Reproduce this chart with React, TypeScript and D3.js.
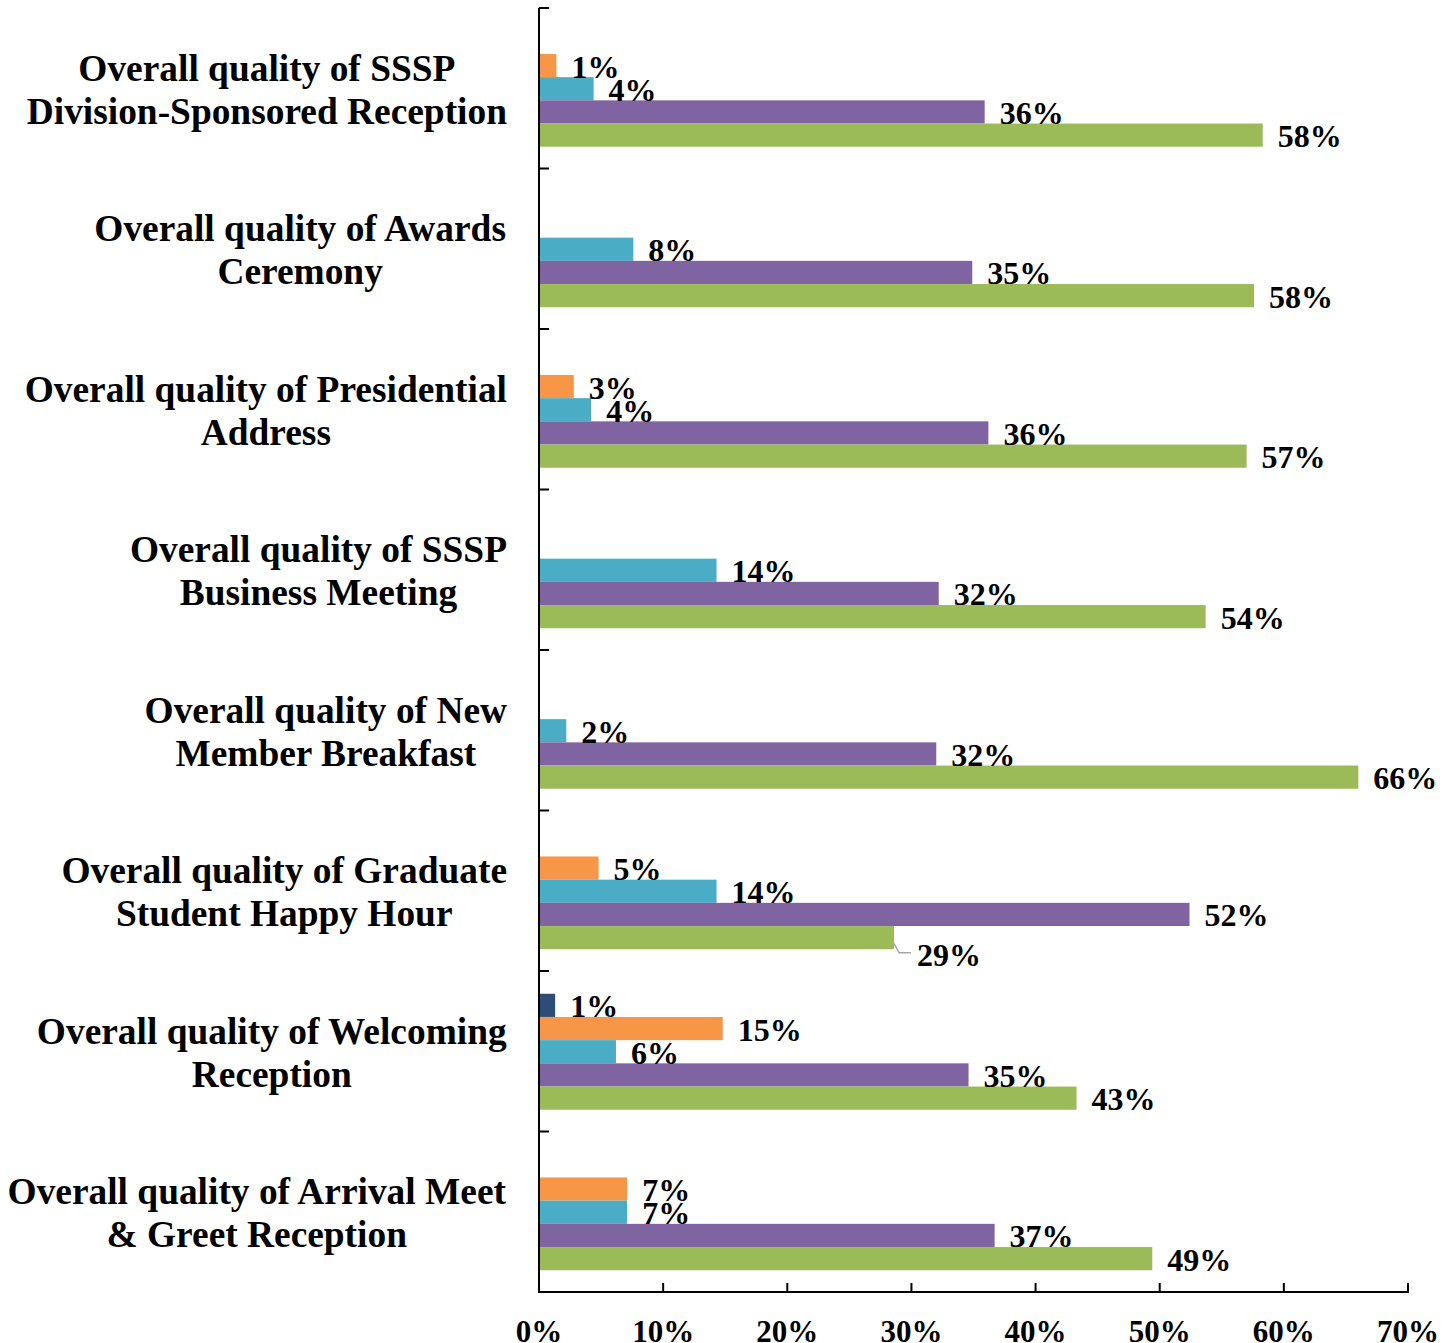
import React from "react";
import * as d3 from "d3";

const categories = [
  ["Overall quality of SSSP", "Division-Sponsored Reception"],
  ["Overall quality of Awards", "Ceremony"],
  ["Overall quality of Presidential", "Address"],
  ["Overall quality of SSSP", "Business Meeting"],
  ["Overall quality of New", "Member Breakfast"],
  ["Overall quality of Graduate", "Student Happy Hour"],
  ["Overall quality of Welcoming", "Reception"],
  ["Overall quality of Arrival Meet", "& Greet Reception"],
];

const seriesNames = ["Very Poor", "Poor", "Fair", "Good", "Excellent"];
const seriesColors = ["#2C4D75", "#F79646", "#4BACC6", "#8064A2", "#9BBB59"];

// values in percent, per series, in category order
const veryPoor = [0, 0, 0, 0, 0, 0, 1.3, 0];
const poor = [1.4, 0, 2.8, 0, 0, 4.8, 14.8, 7.1];
const fair = [4.4, 7.6, 4.2, 14.3, 2.2, 14.3, 6.2, 7.1];
const good = [35.9, 34.9, 36.2, 32.2, 32.0, 52.4, 34.6, 36.7];
const excellent = [58.3, 57.6, 57.0, 53.7, 66.0, 28.6, 43.3, 49.4];
const seriesValues = [veryPoor, poor, fair, good, excellent];

const xTicks = [0, 10, 20, 30, 40, 50, 60, 70];

const FONT = "'Liberation Serif', 'Times New Roman', serif";
const CAT_FONT_SIZE = 37.4;
const VAL_FONT_SIZE = 32;
const TICK_FONT_SIZE = 31;

function measure(text: string, size: number): number {
  try {
    const c = document.createElement("canvas");
    const ctx = c.getContext("2d");
    if (ctx) {
      ctx.font = `bold ${size}px 'Liberation Serif', 'Times New Roman', serif`;
      return ctx.measureText(text).width;
    }
  } catch (e) {}
  return text.length * size * 0.5;
}

export default function App() {
  const x = d3.scaleLinear().domain([0, 70]).range([539, 1408]);
  const catIdx = categories.map((_, i) => String(i));
  const y = d3.scaleBand().domain(catIdx).range([8, 1292]).paddingInner(0);
  const y1 = d3
    .scaleBand()
    .domain(seriesNames)
    .range([0, y.bandwidth()])
    .paddingInner(0)
    .paddingOuter(0.96);

  const bandEdges = d3.range(categories.length + 1).map((i) => 8 + i * y.bandwidth());

  return (
    <svg
      width={1454}
      height={1343}
      style={{ position: "absolute", left: 0, top: 0, background: "#fff" }}
      fontFamily={FONT}
    >
      {/* bars */}
      {categories.map((_, ci) =>
        seriesNames.map((s, si) => {
          const v = seriesValues[si][ci];
          if (!v) return null;
          const by = (y(String(ci)) as number) + (y1(s) as number) + 0.5;
          return (
            <rect
              key={`b${ci}-${si}`}
              x={x(0)}
              y={by}
              width={x(v) - x(0)}
              height={y1.bandwidth()}
              fill={seriesColors[si]}
            />
          );
        })
      )}
      {/* value labels */}
      {categories.map((_, ci) =>
        seriesNames.map((s, si) => {
          const v = seriesValues[si][ci];
          if (!v) return null;
          const by = (y(String(ci)) as number) + (y1(s) as number) + 0.5;
          const cy = by + y1.bandwidth() / 2;
          const special = ci === 5 && si === 4;
          if (special) {
            const ex = x(v);
            return (
              <g key={`l${ci}-${si}`}>
                <polyline
                  points={`${ex},${cy + 6} ${ex + 5},${cy + 15} ${ex + 17},${cy + 15}`}
                  fill="none"
                  stroke="#a6a6a6"
                  strokeWidth={1.5}
                />
                <text
                  x={ex + 23}
                  y={cy + 17}
                  fontSize={VAL_FONT_SIZE}
                  fontWeight="bold"
                  dominantBaseline="central"
                >
                  {Math.round(v)}%
                </text>
              </g>
            );
          }
          return (
            <text
              key={`l${ci}-${si}`}
              x={x(v) + 15}
              y={cy + 1}
              fontSize={VAL_FONT_SIZE}
              fontWeight="bold"
              dominantBaseline="central"
            >
              {Math.round(v)}%
            </text>
          );
        })
      )}
      {/* category labels: lines centred in a block right-aligned at 507 */}
      {categories.map((lines, ci) => {
        const cy = (y(String(ci)) as number) + y.bandwidth() / 2 + 1.5;
        const maxW = Math.max(...lines.map((ln) => measure(ln, CAT_FONT_SIZE)));
        const cx = 507 - maxW / 2;
        return (
          <g key={`cg${ci}`}>
            {lines.map((ln, li) => (
              <text
                key={li}
                x={cx}
                y={cy + (li - (lines.length - 1) / 2) * 43}
                fontSize={CAT_FONT_SIZE}
                fontWeight="bold"
                textAnchor="middle"
                dominantBaseline="central"
              >
                {ln}
              </text>
            ))}
          </g>
        );
      })}
      {/* vertical axis */}
      <line x1={539} x2={539} y1={8} y2={1292} stroke="#000" strokeWidth={2} />
      {bandEdges.map((e, i) => (
        <line key={`yt${i}`} x1={539} x2={549} y1={e} y2={e} stroke="#000" strokeWidth={2} />
      ))}
      {/* horizontal axis */}
      <line x1={538} x2={1409} y1={1292} y2={1292} stroke="#000" strokeWidth={2} />
      {xTicks.map((t) => (
        <g key={`xt${t}`}>
          <line x1={x(t)} x2={x(t)} y1={1283} y2={1292} stroke="#000" strokeWidth={2} />
          <text
            x={x(t)}
            y={1331}
            fontSize={TICK_FONT_SIZE}
            fontWeight="bold"
            textAnchor="middle"
            dominantBaseline="central"
          >
            {t}%
          </text>
        </g>
      ))}
    </svg>
  );
}
